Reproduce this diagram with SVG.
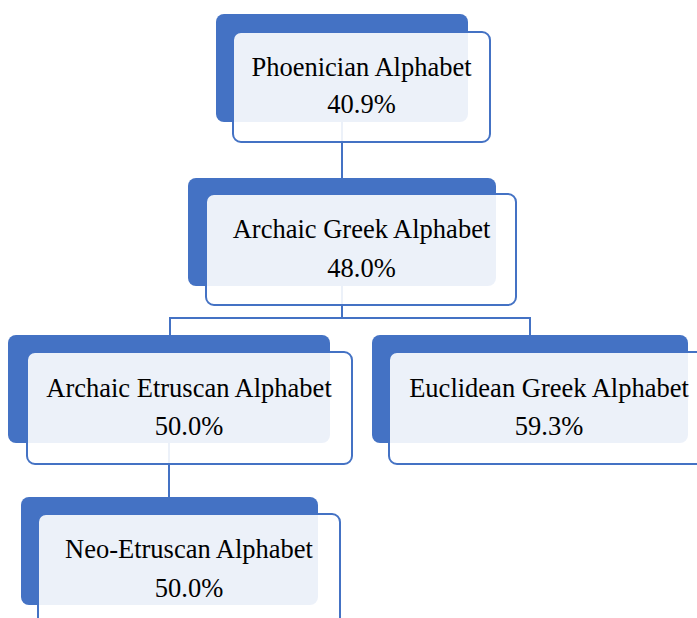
<svg xmlns="http://www.w3.org/2000/svg" width="697" height="618" viewBox="0 0 697 618">
<style>
.back{fill:#4472C4;}
.front{fill:#FFFFFF;fill-opacity:0.9;stroke:#4472C4;stroke-width:2;}
.conn{fill:none;stroke:#4472C4;stroke-width:2;}
</style>
<rect width="697" height="618" fill="#FFFFFF"/>
<g id="connectors">
<path class="conn" d="M342,120 V180"/>
<path class="conn" d="M342,284 V318 M170,336 V318 H530 V336"/>
<path class="conn" d="M169,440 V498"/>
</g>
<g id="node-phoenician">
<rect class="back" x="216" y="14" width="252" height="108" rx="8"/>
<rect class="front" x="233" y="32" width="257" height="110" rx="8"/>
<text x="361.5" y="76" style="font-family:'Liberation Serif','Times New Roman',serif;font-size:26.5px;text-anchor:middle">Phoenician Alphabet</text>
<text x="361.5" y="113" style="font-family:'Liberation Serif','Times New Roman',serif;font-size:26.5px;text-anchor:middle">40.9%</text>
</g>
<g id="node-archaic-greek">
<rect class="back" x="188" y="178" width="308" height="108" rx="8"/>
<rect class="front" x="206" y="194" width="310" height="111" rx="8"/>
<text x="361.5" y="238" style="font-family:'Liberation Serif','Times New Roman',serif;font-size:26.5px;text-anchor:middle">Archaic Greek Alphabet</text>
<text x="361.5" y="277" style="font-family:'Liberation Serif','Times New Roman',serif;font-size:26.5px;text-anchor:middle">48.0%</text>
</g>
<g id="node-archaic-etruscan">
<rect class="back" x="8" y="335" width="322" height="108" rx="8"/>
<rect class="front" x="27" y="352" width="325" height="112" rx="8"/>
<text x="189" y="397" style="font-family:'Liberation Serif','Times New Roman',serif;font-size:26.5px;text-anchor:middle">Archaic Etruscan Alphabet</text>
<text x="189" y="435" style="font-family:'Liberation Serif','Times New Roman',serif;font-size:26.5px;text-anchor:middle">50.0%</text>
</g>
<g id="node-euclidean-greek">
<rect class="back" x="372" y="335" width="316" height="108" rx="8"/>
<rect class="front" x="389" y="352" width="320" height="112" rx="8"/>
<text x="549" y="397" style="font-family:'Liberation Serif','Times New Roman',serif;font-size:26.5px;text-anchor:middle">Euclidean Greek Alphabet</text>
<text x="549" y="435" style="font-family:'Liberation Serif','Times New Roman',serif;font-size:26.5px;text-anchor:middle">59.3%</text>
</g>
<g id="node-neo-etruscan">
<rect class="back" x="21" y="497" width="297" height="108" rx="8"/>
<rect class="front" x="38" y="514" width="302" height="112" rx="8"/>
<text x="189" y="558" style="font-family:'Liberation Serif','Times New Roman',serif;font-size:26.5px;text-anchor:middle">Neo-Etruscan Alphabet</text>
<text x="189" y="597" style="font-family:'Liberation Serif','Times New Roman',serif;font-size:26.5px;text-anchor:middle">50.0%</text>
</g>
</svg>
